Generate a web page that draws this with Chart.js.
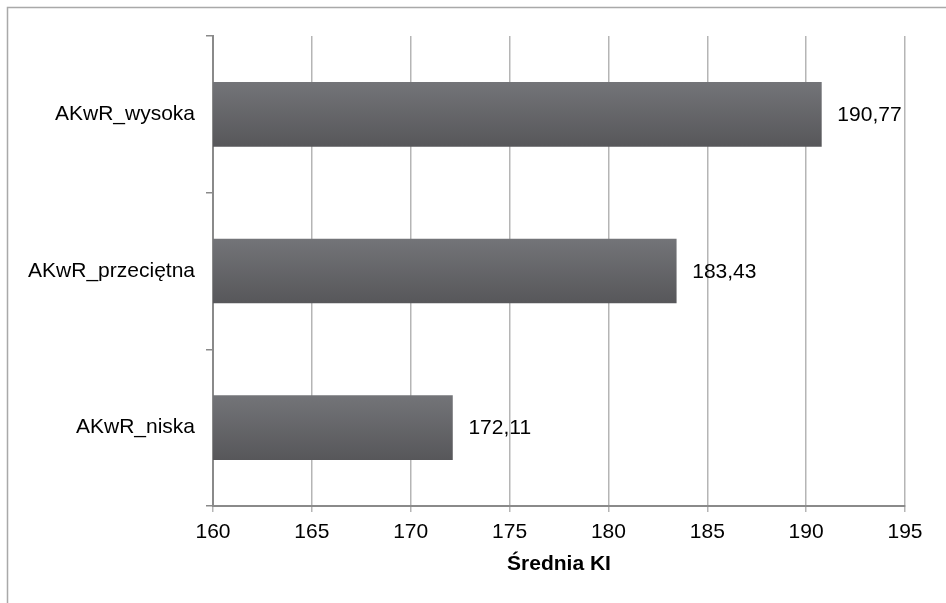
<!DOCTYPE html>
<html lang="pl">
<head>
<meta charset="utf-8">
<title>Średnia KI</title>
<script src="https://cdn.jsdelivr.net/npm/chart.js@4/dist/chart.umd.min.js"></script>
<style>
  html, body { margin: 0; padding: 0; background: #fff; }
  #wrap { width: 946px; height: 603px; position: relative; }
</style>
</head>
<body>
<div id="wrap"><canvas id="wykres"></canvas></div>
<script>
"use strict";

/* ── DANE ───────────────────────────────── */
const kategorie = ["AKwR_wysoka", "AKwR_przeciętna", "AKwR_niska"];
const srednie   = [190.77, 183.43, 172.11];
const osX       = { min: 160, max: 195, krok: 5 };
const tytulX    = "Średnia KI";

const FONT = "'Liberation Sans', Arial, Helvetica, sans-serif";
const ROZM = 21;

/* ── RAMKA (góra + lewo) ────────────────── */
const ramka = {
  id: "ramka",
  beforeDraw(chart) {
    const c = chart.ctx;
    c.save();
    c.strokeStyle = "#a9a9a9";
    c.lineWidth = 1.5;
    c.beginPath();
    c.moveTo(7.5, chart.height);
    c.lineTo(7.5, 7.5);
    c.lineTo(chart.width, 7.5);
    c.stroke();
    c.restore();
  }
};

/* ── SŁUPKI Z GRADIENTEM ────────────────── */
const gradient = {
  id: "gradient",
  beforeDatasetsDraw(chart) {
    const c = chart.ctx;
    const a = chart.chartArea;
    c.save();
    c.beginPath();
    c.rect(a.left, a.top, a.right - a.left, a.bottom - a.top);
    c.clip();
    chart.getDatasetMeta(0).data.forEach(bar => {
      const top = bar.y - bar.height / 2;
      const g = c.createLinearGradient(0, top, 0, top + bar.height);
      g.addColorStop(0, "#737478");
      g.addColorStop(1, "#57575a");
      const stare = bar.options.backgroundColor;
      bar.options.backgroundColor = g;
      bar.draw(c);
      bar.options.backgroundColor = stare;
    });
    c.restore();
    return false;
  }
};

/* ── ETYKIETY WARTOŚCI ──────────────────── */
const etykiety = {
  id: "etykiety",
  afterDraw(chart) {
    const c = chart.ctx;
    c.save();
    c.font = ROZM + "px " + FONT;
    c.fillStyle = "#000";
    c.textAlign = "left";
    c.textBaseline = "middle";
    chart.getDatasetMeta(0).data.forEach((bar, i) => {
      const txt = srednie[i].toFixed(2).replace(".", ",");
      c.fillText(txt, bar.x + 16, bar.y + 1);
    });
    c.restore();
  }
};

/* ── WYKRES ─────────────────────────────── */
new Chart(document.getElementById("wykres"), {
  type: "bar",
  data: {
    labels: kategorie,
    datasets: [{
      data: srednie,
      backgroundColor: "#666",
      borderWidth: 0,
      barThickness: 64
    }]
  },
  options: {
    indexAxis: "y",
    responsive: true,
    maintainAspectRatio: false,
    animation: false,
    events: [],
    layout: { padding: { top: 36, right: 41, left: 0, bottom: 0 } },
    plugins: {
      legend:  { display: false },
      tooltip: { enabled: false }
    },
    scales: {
      x: {
        min: osX.min,
        max: osX.max,
        afterFit: s => { s.height = 97; },
        ticks: {
          stepSize: osX.krok,
          color: "#000",
          padding: 8,
          font: { family: FONT, size: ROZM }
        },
        grid:   { color: "#b5b5b5", lineWidth: 1.5, tickLength: 6 },
        border: { color: "#8a8a8a", width: 2 },
        title: {
          display: true,
          text: tytulX,
          color: "#000",
          padding: { top: 0, bottom: 26 },
          font: { family: FONT, size: ROZM, weight: "bold" }
        }
      },
      y: {
        afterFit: s => { s.width = 213; },
        ticks: {
          color: "#000",
          padding: 11,
          font: { family: FONT, size: ROZM }
        },
        grid: {
          offset: true,
          drawOnChartArea: false,
          color: "#8a8a8a",
          lineWidth: 1.5,
          tickLength: 7
        },
        border: { color: "#8a8a8a", width: 2 }
      }
    }
  },
  plugins: [ramka, gradient, etykiety]
});
</script>
</body>
</html>
